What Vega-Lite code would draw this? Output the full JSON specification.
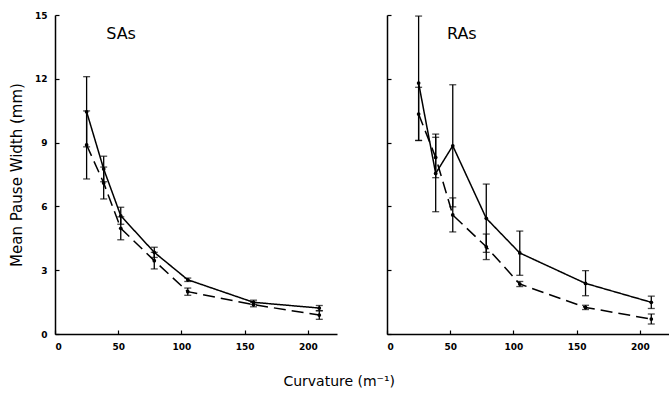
{
  "$schema": "https://vega.github.io/schema/vega-lite/v6.json",
  "background": "white",
  "padding": {"left": 9, "top": 11, "right": 0, "bottom": 5},
  "config": {
    "view": {"stroke": null},
    "font": "DejaVu Sans",
    "axis": {
      "grid": false,
      "domainColor": "black",
      "domainWidth": 1.5,
      "tickColor": "black",
      "tickWidth": 1.2,
      "tickSize": -4,
      "labelPadding": 12,
      "labelFont": "DejaVu Sans",
      "labelFontSize": 9,
      "labelFontWeight": "bold",
      "labelColor": "black",
      "titleFont": "DejaVu Sans",
      "titleFontSize": 15,
      "titleFontWeight": "normal",
      "titleColor": "black"
    }
  },
  "title": {"text": "Curvature (m⁻¹)", "orient": "bottom", "anchor": "middle", "fontSize": 14, "fontWeight": "normal", "font": "DejaVu Sans", "color": "black", "offset": 24},
  "datasets": {
    "pts": [
      {"panel": "SAs", "series": "solid", "x": 25, "y": 10.45, "lo": 8.8, "hi": 12.1},
      {"panel": "SAs", "series": "solid", "x": 38.5, "y": 7.76, "lo": 7.16, "hi": 8.36},
      {"panel": "SAs", "series": "solid", "x": 52, "y": 5.56, "lo": 5.16, "hi": 5.96},
      {"panel": "SAs", "series": "solid", "x": 78.5, "y": 3.84, "lo": 3.6, "hi": 4.08},
      {"panel": "SAs", "series": "solid", "x": 105, "y": 2.55, "lo": 2.47, "hi": 2.63},
      {"panel": "SAs", "series": "solid", "x": 157, "y": 1.49, "lo": 1.39, "hi": 1.59},
      {"panel": "SAs", "series": "solid", "x": 209, "y": 1.22, "lo": 1.1, "hi": 1.34},
      {"panel": "SAs", "series": "dashed", "x": 25, "y": 8.89, "lo": 7.29, "hi": 10.49},
      {"panel": "SAs", "series": "dashed", "x": 38.5, "y": 7.1, "lo": 6.35, "hi": 7.85},
      {"panel": "SAs", "series": "dashed", "x": 52, "y": 4.97, "lo": 4.43, "hi": 5.51},
      {"panel": "SAs", "series": "dashed", "x": 78.5, "y": 3.45, "lo": 3.06, "hi": 3.84},
      {"panel": "SAs", "series": "dashed", "x": 105, "y": 1.99, "lo": 1.82, "hi": 2.16},
      {"panel": "SAs", "series": "dashed", "x": 157, "y": 1.38, "lo": 1.28, "hi": 1.48},
      {"panel": "SAs", "series": "dashed", "x": 209, "y": 0.89, "lo": 0.69, "hi": 1.09},
      {"panel": "RAs", "series": "solid", "x": 25, "y": 11.8, "lo": 9.1, "hi": 14.95},
      {"panel": "RAs", "series": "solid", "x": 38.5, "y": 7.55, "lo": 5.75, "hi": 9.25},
      {"panel": "RAs", "series": "solid", "x": 52, "y": 8.85, "lo": 5.98, "hi": 11.72},
      {"panel": "RAs", "series": "solid", "x": 78.5, "y": 5.44, "lo": 3.84, "hi": 7.05},
      {"panel": "RAs", "series": "solid", "x": 105, "y": 3.81, "lo": 2.76, "hi": 4.84},
      {"panel": "RAs", "series": "solid", "x": 157, "y": 2.38, "lo": 1.8, "hi": 2.98},
      {"panel": "RAs", "series": "solid", "x": 209, "y": 1.49, "lo": 1.2, "hi": 1.78},
      {"panel": "RAs", "series": "dashed", "x": 25, "y": 10.34, "lo": 9.1, "hi": 11.6},
      {"panel": "RAs", "series": "dashed", "x": 38.5, "y": 8.3, "lo": 7.35, "hi": 9.4},
      {"panel": "RAs", "series": "dashed", "x": 52, "y": 5.6, "lo": 4.8, "hi": 6.4},
      {"panel": "RAs", "series": "dashed", "x": 78.5, "y": 4.1, "lo": 3.5, "hi": 4.7},
      {"panel": "RAs", "series": "dashed", "x": 105, "y": 2.35, "lo": 2.23, "hi": 2.47},
      {"panel": "RAs", "series": "dashed", "x": 157, "y": 1.25, "lo": 1.15, "hi": 1.35},
      {"panel": "RAs", "series": "dashed", "x": 209, "y": 0.7, "lo": 0.47, "hi": 0.94}
    ],
    "lbl": [
      {"panel": "SAs", "x": 40.5, "y": 13.87},
      {"panel": "RAs", "x": 47.4, "y": 13.87}
    ]
  },
  "spacing": 49,
  "hconcat": [
    {
      "width": 282,
      "height": 319,
      "layer": [
        {
          "data": {"name": "pts"},
          "transform": [{"filter": "datum.panel === 'SAs'"}],
          "mark": {"type": "line", "color": "black", "strokeWidth": 1.5},
          "encoding": {
            "x": {"field": "x", "type": "quantitative", "scale": {"domain": [0, 223], "nice": false}, "axis": {"values": [0, 50, 100, 150, 200], "title": null}},
            "y": {"field": "y", "type": "quantitative", "scale": {"domain": [0, 15], "nice": false}, "axis": {"values": [0, 3, 6, 9, 12, 15], "title": "Mean Pause Width (mm)", "titlePadding": 10}},
            "strokeDash": {"field": "series", "type": "nominal", "scale": {"domain": ["solid", "dashed"], "range": [[1, 0], [12, 6]]}, "legend": null}
          }
        },
        {
          "data": {"name": "pts"},
          "transform": [{"filter": "datum.panel === 'SAs'"}],
          "mark": {"type": "errorbar", "ticks": true, "color": "black", "size": 7, "thickness": 1.3},
          "encoding": {
            "x": {"field": "x", "type": "quantitative", "title": null},
            "y": {"field": "lo", "type": "quantitative", "title": "Mean Pause Width (mm)"},
            "y2": {"field": "hi"}
          }
        },
        {
          "data": {"name": "pts"},
          "transform": [{"filter": "datum.panel === 'SAs'"}],
          "mark": {"type": "point", "filled": true, "color": "black", "size": 14, "opacity": 1},
          "encoding": {
            "x": {"field": "x", "type": "quantitative", "title": null},
            "y": {"field": "y", "type": "quantitative", "title": "Mean Pause Width (mm)"}
          }
        },
        {
          "data": {"name": "lbl"},
          "transform": [{"filter": "datum.panel === 'SAs'"}],
          "mark": {"type": "text", "align": "left", "baseline": "alphabetic", "fontSize": 16, "font": "DejaVu Sans", "color": "black"},
          "encoding": {
            "x": {"field": "x", "type": "quantitative", "title": null},
            "y": {"field": "y", "type": "quantitative", "title": "Mean Pause Width (mm)"},
            "text": {"field": "panel"}
          }
        }
      ]
    },
    {
      "width": 282,
      "height": 319,
      "layer": [
        {
          "data": {"name": "pts"},
          "transform": [{"filter": "datum.panel === 'RAs'"}],
          "mark": {"type": "line", "color": "black", "strokeWidth": 1.5},
          "encoding": {
            "x": {"field": "x", "type": "quantitative", "scale": {"domain": [0, 223], "nice": false}, "axis": {"values": [0, 50, 100, 150, 200], "title": null}},
            "y": {"field": "y", "type": "quantitative", "scale": {"domain": [0, 15], "nice": false}, "axis": {"values": [0, 3, 6, 9, 12, 15], "title": null, "labels": false}},
            "strokeDash": {"field": "series", "type": "nominal", "scale": {"domain": ["solid", "dashed"], "range": [[1, 0], [12, 6]]}, "legend": null}
          }
        },
        {
          "data": {"name": "pts"},
          "transform": [{"filter": "datum.panel === 'RAs'"}],
          "mark": {"type": "errorbar", "ticks": true, "color": "black", "size": 7, "thickness": 1.3},
          "encoding": {
            "x": {"field": "x", "type": "quantitative", "title": null},
            "y": {"field": "lo", "type": "quantitative", "title": null},
            "y2": {"field": "hi"}
          }
        },
        {
          "data": {"name": "pts"},
          "transform": [{"filter": "datum.panel === 'RAs'"}],
          "mark": {"type": "point", "filled": true, "color": "black", "size": 14, "opacity": 1},
          "encoding": {
            "x": {"field": "x", "type": "quantitative", "title": null},
            "y": {"field": "y", "type": "quantitative", "title": null}
          }
        },
        {
          "data": {"name": "lbl"},
          "transform": [{"filter": "datum.panel === 'RAs'"}],
          "mark": {"type": "text", "align": "left", "baseline": "alphabetic", "fontSize": 16, "font": "DejaVu Sans", "color": "black"},
          "encoding": {
            "x": {"field": "x", "type": "quantitative", "title": null},
            "y": {"field": "y", "type": "quantitative", "title": null},
            "text": {"field": "panel"}
          }
        }
      ]
    }
  ]
}
